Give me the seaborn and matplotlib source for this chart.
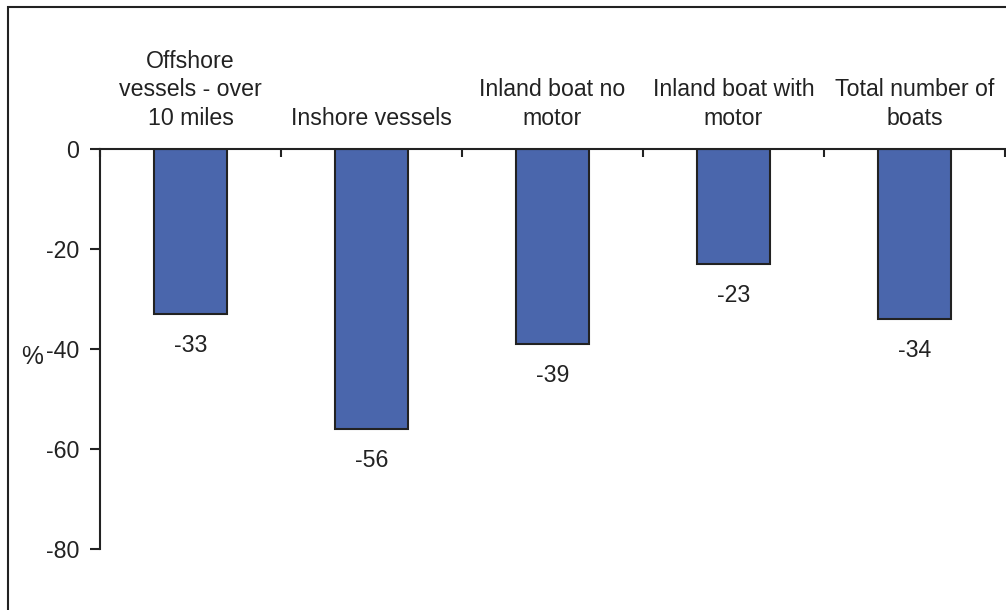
import matplotlib
matplotlib.use("Agg")
import matplotlib.pyplot as plt
import matplotlib.patches as mpatches
from matplotlib.ticker import FixedLocator
import seaborn as sns
import pandas as pd

categories = [
    "Offshore\nvessels - over\n10 miles",
    "Inshore vessels",
    "Inland boat no\nmotor",
    "Inland boat with\nmotor",
    "Total number of\nboats",
]
values = [-33, -56, -39, -23, -34]
y_ticks = [0, -20, -40, -60, -80]

bar_color = "#4A66AC"
ink = "#222222"
fs = 16.7

sns.set_theme(style="white")
plt.rcParams["font.family"] = ["Liberation Sans", "DejaVu Sans"]
plt.rcParams["text.color"] = ink

df = pd.DataFrame({"category": categories, "change": values})

fig = plt.figure(figsize=(10.06, 6.10), dpi=100)
ax = fig.add_axes([100 / 1006, 0.1, 905 / 1006, 400 / 610])

sns.barplot(
    data=df, x="category", y="change", color=bar_color,
    width=0.4, edgecolor=ink, linewidth=1.5, saturation=1, ax=ax,
)

ax.set_ylim(-80, 0)
ax.set_xlim(-0.5, len(categories) - 0.5)
ax.set_yticks(y_ticks)
ax.set_yticklabels([str(t) for t in y_ticks])

# category labels above the zero line, boundary ticks pointing down
ax.xaxis.tick_top()
ax.tick_params(axis="x", which="major", length=0, pad=14, labelsize=fs,
               labelcolor=ink)
ax.xaxis.set_minor_locator(FixedLocator([i + 0.5 for i in range(-1, len(categories))]))
ax.tick_params(axis="x", which="minor", top=True, direction="in", length=6,
               width=1.5, color=ink)
for lbl in ax.get_xticklabels():
    lbl.set_linespacing(1.3)
    lbl.set_va("bottom")

ax.tick_params(axis="y", which="major", left=True, direction="out", length=7,
               width=1.5, color=ink, pad=8, labelsize=fs, labelcolor=ink)

for side in ["right", "bottom"]:
    ax.spines[side].set_visible(False)
for side in ["left", "top"]:
    ax.spines[side].set_color(ink)
    ax.spines[side].set_linewidth(1.5)

ax.set_xlabel("")
ax.set_ylabel("%", rotation=0, fontsize=fs + 1, color=ink, ha="right", va="center")
ax.yaxis.set_label_coords(-0.063, 0.48)

for i, v in enumerate(values):
    ax.annotate(str(v), (i, v), xytext=(0, -23), textcoords="offset points",
                ha="center", va="center", fontsize=fs, color=ink)

# outer frame of the figure
fig.patches.append(mpatches.Rectangle(
    (8 / 1006, -0.1), 1.2, 1.1 - 7 / 610, transform=fig.transFigure,
    fill=False, edgecolor=ink, linewidth=1.5, zorder=10))

fig.savefig("out.png", dpi=100)
